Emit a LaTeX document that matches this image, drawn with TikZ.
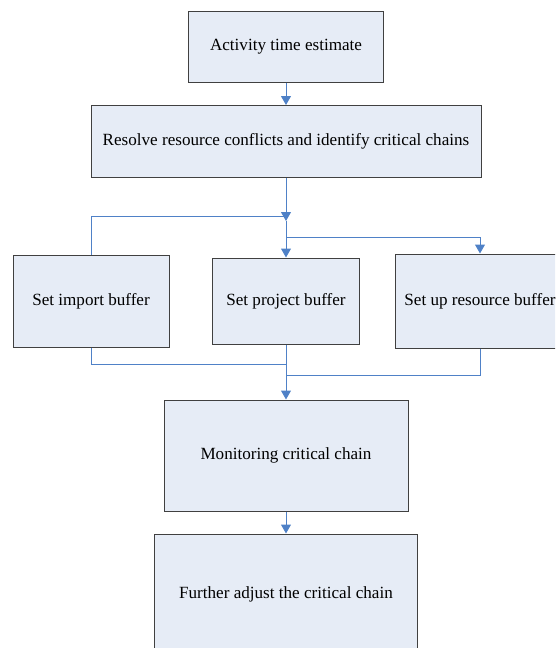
\documentclass[tikz,border=0pt]{standalone}
\usepackage{fontspec}
\setmainfont{Liberation Serif}
\usetikzlibrary{arrows.meta}
\definecolor{boxfill}{RGB}{230,236,246}
\definecolor{linkblue}{RGB}{79,129,199}
\begin{document}
\begin{tikzpicture}[x=1pt,y=-1pt,every node/.style={font=\fontsize{17.1}{20}\selectfont},
	box/.style={draw=black!75,fill=boxfill,line width=1pt,inner sep=0pt},
	link/.style={draw=linkblue,line width=1pt},
	flow/.style={link,-{Triangle[width=10pt,length=9pt]}}]
	\useasboundingbox(0,0)rectangle(555,648);
	\clip(0,0)rectangle(555,648);
	\node[box,minimum width=195pt,minimum height=71pt](est)at(286,46.5){Activity time estimate};
	\node[box,minimum width=390pt,minimum height=72pt](resolve)at(286,141.5){Resolve resource conflicts and identify critical chains};
	\node[box,minimum width=156pt,minimum height=92pt](imp)at(91,301){Set import buffer};
	\node[box,minimum width=147pt,minimum height=86pt](proj)at(286,301){Set project buffer};
	\node[box,minimum width=170pt,minimum height=94pt](res)at(480,301){Set up resource buffer};
	\node[box,minimum width=244pt,minimum height=111pt](mon)at(286,455.5){Monitoring critical chain};
	\node[box,minimum width=263pt,minimum height=120pt](adj)at(286,594){Further adjust the critical chain};
	\coordinate(j1)at(286,221);
	\coordinate(k1)at(286,216);
	\coordinate(j2)at(286,237);
	\coordinate(m1)at(286,364);
	\coordinate(m2)at(286,375);
	%top part
	\draw[flow](est)--(resolve);
	\draw[flow](resolve)--(j1);
	\draw[link](imp.north)|-(k1);
	\draw[flow](j1)--(proj);
	\draw[flow](j2)-|(res.north);
	%bottom part
	\draw[link](imp.south)|-(m1);
	\draw[link](res.south)|-(m2);
	\draw[flow](proj)--(mon);
	\draw[flow](mon)--(adj);
\end{tikzpicture}
\end{document}
